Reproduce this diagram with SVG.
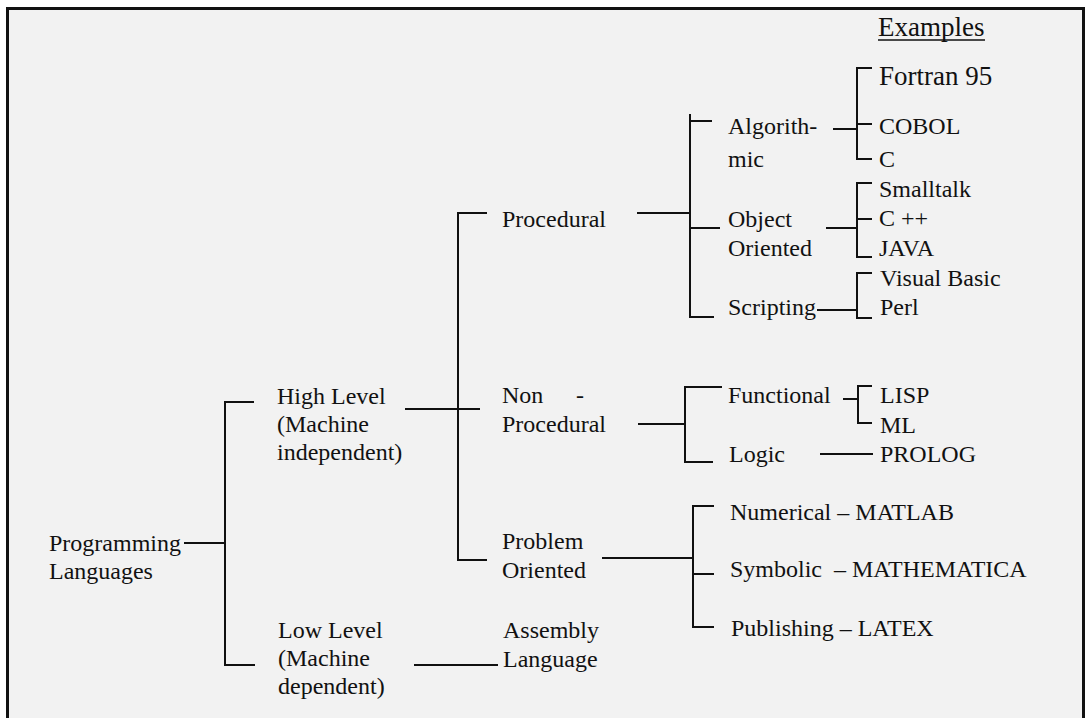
<svg xmlns="http://www.w3.org/2000/svg" width="1085" height="718" viewBox="0 0 1085 718">
<style>
text{font-family:"Liberation Serif","Times New Roman",serif;font-size:24px;fill:#111;white-space:pre}
.big{font-size:27px}
.c line,.c path{stroke:#111;stroke-width:2;fill:none}
</style>
<rect x="0" y="0" width="1085" height="718" fill="#ffffff"/>
<rect x="7.5" y="8.5" width="1076" height="720" fill="#f2f2f2" stroke="#111" stroke-width="3"/>
<g id="examples-header"><text class="big" x="878" y="36">Examples</text><line x1="878" y1="40" x2="985" y2="40" stroke="#111" stroke-width="1.5"/></g>
<g class="c" id="connectors">
<line x1="184" y1="543" x2="225" y2="543"/>
<path d="M254 402 H225 V665 H255"/>
<line x1="405" y1="409" x2="480" y2="409"/>
<path d="M487 213 H458 V560 H487"/>
<line x1="414" y1="665" x2="498" y2="665"/>
<line x1="637" y1="213" x2="690" y2="213"/>
<path d="M712 121 H690 V114 M690 114 V317 H714"/>
<line x1="690" y1="228" x2="720" y2="228"/>
<line x1="833" y1="129" x2="857" y2="129"/>
<path d="M872 68 H857 V159 H872"/>
<line x1="857" y1="124" x2="872" y2="124"/>
<line x1="826" y1="228" x2="857" y2="228"/>
<path d="M872 183 H857 V257 H872"/>
<line x1="857" y1="219" x2="872" y2="219"/>
<line x1="817" y1="310" x2="857" y2="310"/>
<path d="M872 273 H857 V318 H872"/>
<line x1="638" y1="424" x2="685" y2="424"/>
<path d="M722 387 H685 V462 H713"/>
<line x1="843" y1="399" x2="858" y2="399"/>
<path d="M872 386 H858 V423 H872"/>
<line x1="820" y1="454" x2="873" y2="454"/>
<line x1="602" y1="558" x2="693" y2="558"/>
<path d="M714 506 H693 V627 H714"/>
<line x1="693" y1="574" x2="714" y2="574"/>
</g>
<g id="programming-languages"><text x="49" y="551">Programming</text><text x="49" y="579">Languages</text></g>
<g id="high-level"><text x="277" y="404">High Level</text><text x="277" y="432">(Machine</text><text x="277" y="460">independent)</text></g>
<g id="low-level"><text x="278" y="638">Low Level</text><text x="278" y="666">(Machine</text><text x="278" y="694">dependent)</text></g>
<g id="assembly"><text x="503" y="638">Assembly</text><text x="503" y="667">Language</text></g>
<g id="procedural"><text x="502" y="227">Procedural</text></g>
<g id="non-procedural"><text x="502" y="403">Non<tspan x="576">-</tspan></text><text x="502" y="432">Procedural</text></g>
<g id="problem-oriented"><text x="502" y="549">Problem</text><text x="502" y="578">Oriented</text></g>
<g id="algorithmic"><text x="728" y="134">Algorith-</text><text x="728" y="167">mic</text></g>
<g id="object-oriented"><text x="728" y="227">Object</text><text x="728" y="256">Oriented</text></g>
<g id="scripting"><text x="728" y="315">Scripting</text></g>
<g id="functional"><text x="728" y="403">Functional</text></g>
<g id="logic"><text x="729" y="462">Logic</text></g>
<g id="numerical"><text x="730" y="520">Numerical – MATLAB</text></g>
<g id="symbolic"><text x="730" y="577">Symbolic  – MATHEMATICA</text></g>
<g id="publishing"><text x="731" y="636">Publishing – LATEX</text></g>
<g id="fortran"><text class="big" x="879" y="85">Fortran 95</text></g>
<g id="cobol"><text x="879" y="134">COBOL</text></g>
<g id="c"><text x="879" y="167">C</text></g>
<g id="smalltalk"><text x="879" y="197">Smalltalk</text></g>
<g id="cpp"><text x="879" y="226">C ++</text></g>
<g id="java"><text x="879" y="256">JAVA</text></g>
<g id="visual-basic"><text x="880" y="286">Visual Basic</text></g>
<g id="perl"><text x="880" y="315">Perl</text></g>
<g id="lisp"><text x="880" y="403">LISP</text></g>
<g id="ml"><text x="880" y="433">ML</text></g>
<g id="prolog"><text x="880" y="462">PROLOG</text></g>
</svg>
